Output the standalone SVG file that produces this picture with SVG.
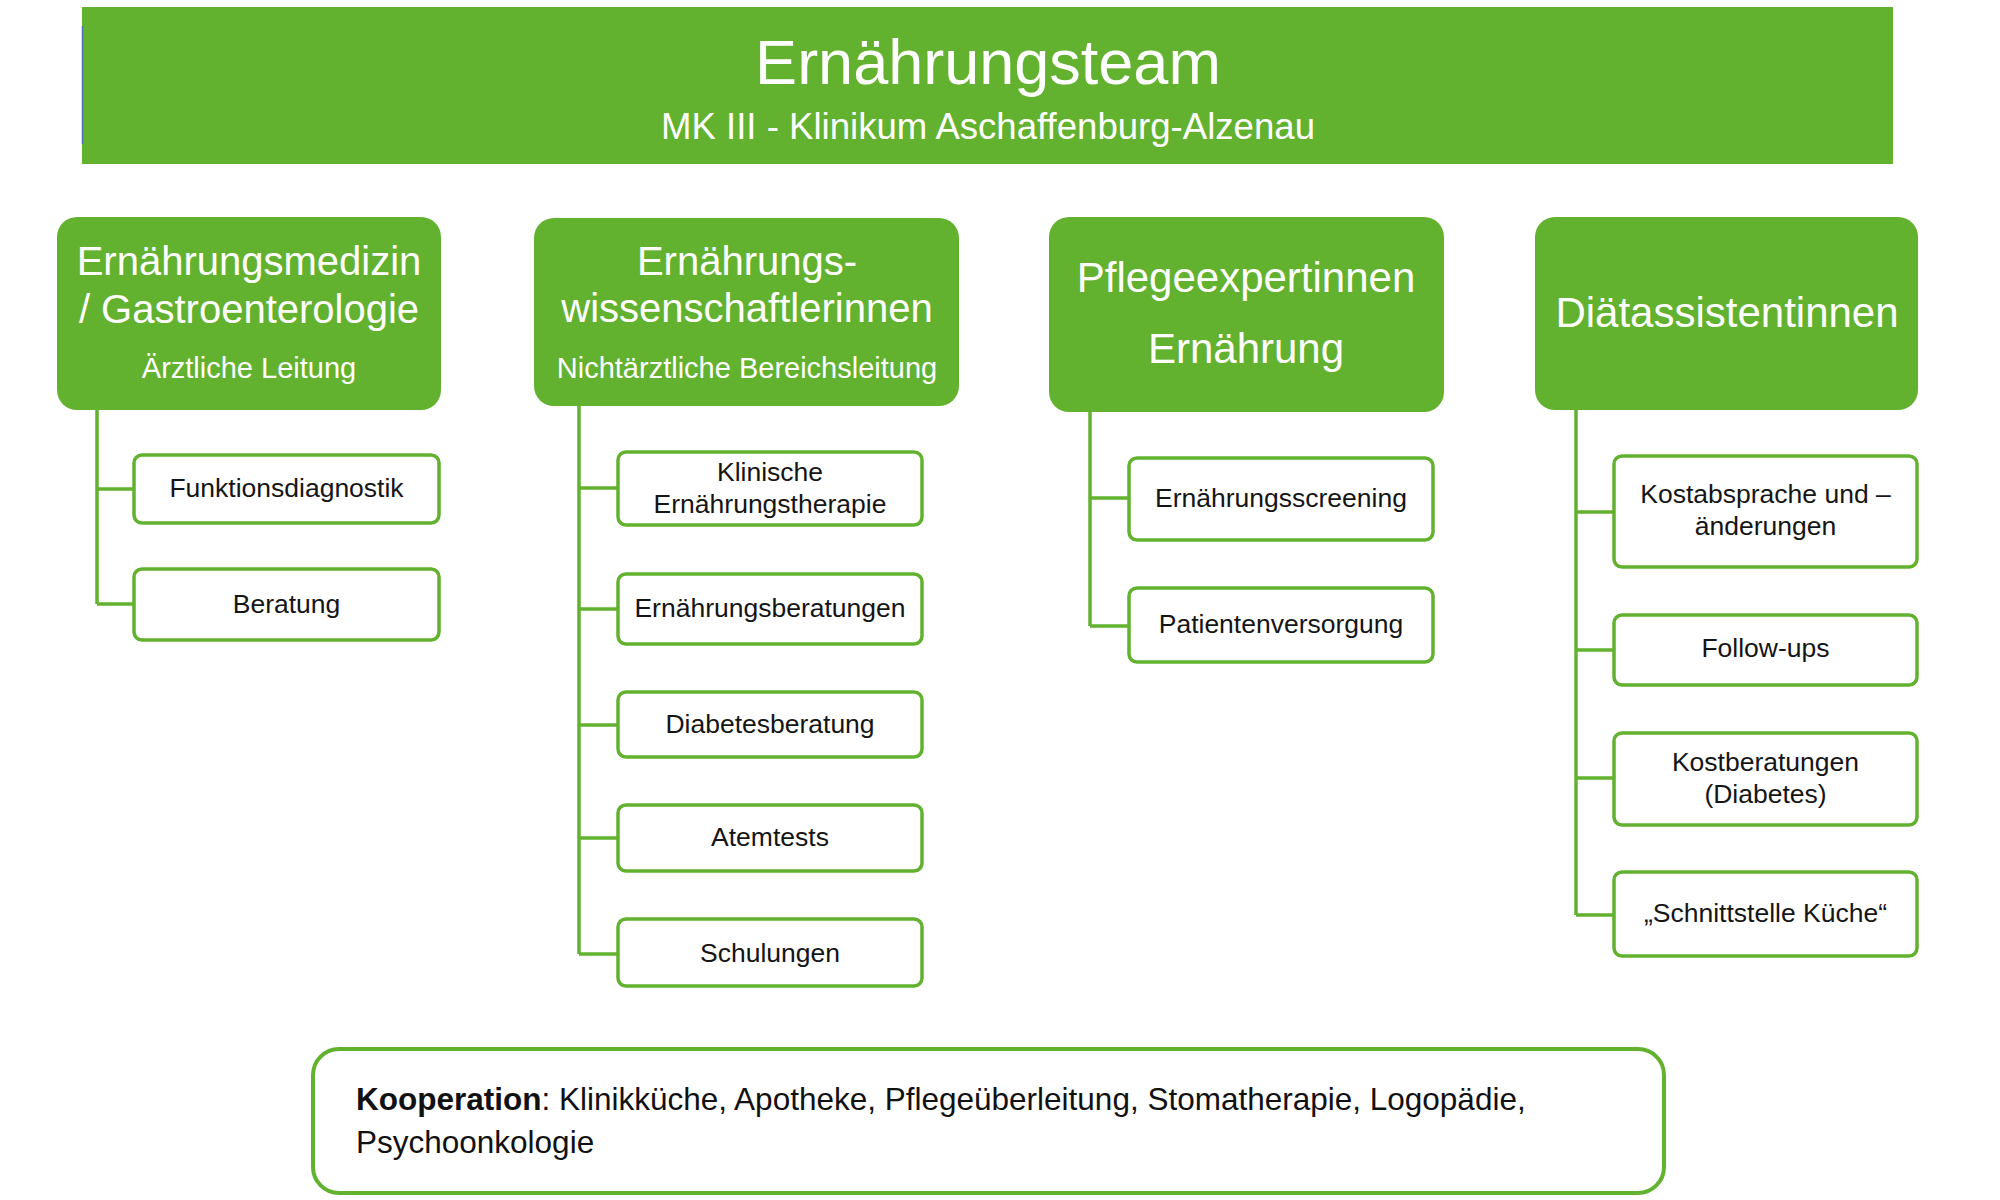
<svg xmlns="http://www.w3.org/2000/svg" width="2000" height="1200" viewBox="0 0 2000 1200">
<style>
  .hdr { fill: #62B22F; }
  .l1 { fill: #62B22F; }
  .l1t { fill: #ffffff; font-family: "Liberation Sans", Arial, sans-serif; text-anchor: middle; }
  .ch { fill: #ffffff; stroke: #62B22F; stroke-width: 3.5; }
  .cht { fill: #151515; font-family: "Liberation Sans", Arial, sans-serif; font-size: 26.5px; text-anchor: middle; }
  .con { fill: none; stroke: #62B22F; stroke-width: 3.5; }
  .koop { fill: #ffffff; stroke: #62B22F; stroke-width: 4; }
  .koopt { fill: #111111; font-family: "Liberation Sans", Arial, sans-serif; font-size: 31.5px; }
</style>
<rect x="0" y="0" width="2000" height="1200" fill="#ffffff"/>

<g id="header">
  <rect class="hdr" x="82" y="7" width="1811" height="157"/>
  <line x1="82.5" y1="26" x2="82.5" y2="144" stroke="#4A6FB5" stroke-width="1.5"/>
  <text class="l1t" x="988" y="84" font-size="63">Ernährungsteam</text>
  <text class="l1t" x="988" y="139" font-size="36.6">MK III - Klinikum Aschaffenburg-Alzenau</text>
</g>

<g id="connectors">
  <path class="con" d="M97 410 V604 M97 489 H133 M97 604 H133"/>
  <path class="con" d="M579 406 V954 M579 488 H618 M579 609 H618 M579 725 H618 M579 838 H618 M579 954 H618"/>
  <path class="con" d="M1090 412 V626 M1090 498 H1129 M1090 626 H1129"/>
  <path class="con" d="M1576 410 V915 M1576 512 H1614 M1576 650 H1614 M1576 778 H1614 M1576 915 H1614"/>
</g>

<g id="gastro">
  <rect class="l1" x="57" y="217" width="384" height="193" rx="20"/>
  <text class="l1t" x="249" y="275" font-size="40">Ernährungsmedizin</text>
  <text class="l1t" x="249" y="323" font-size="40">/ Gastroenterologie</text>
  <text class="l1t" x="249" y="378" font-size="29">Ärztliche Leitung</text>
</g>
<g id="wiss">
  <rect class="l1" x="534" y="218" width="425" height="188" rx="20"/>
  <text class="l1t" x="747" y="275" font-size="40">Ernährungs-</text>
  <text class="l1t" x="747" y="322" font-size="40">wissenschaftlerinnen</text>
  <text class="l1t" x="747" y="378" font-size="29">Nichtärztliche Bereichsleitung</text>
</g>
<g id="pflege">
  <rect class="l1" x="1049" y="217" width="395" height="195" rx="20"/>
  <text class="l1t" x="1246" y="292" font-size="42">Pflegeexpertinnen</text>
  <text class="l1t" x="1246" y="363" font-size="42">Ernährung</text>
</g>
<g id="diaet">
  <rect class="l1" x="1535" y="217" width="383" height="193" rx="20"/>
  <text class="l1t" x="1727" y="327" font-size="42">Diätassistentinnen</text>
</g>

<g id="funktionsdiagnostik">
  <rect class="ch" x="134" y="455" width="305" height="68" rx="8"/>
  <text class="cht" x="286.5" y="497">Funktionsdiagnostik</text>
</g>
<g id="beratung">
  <rect class="ch" x="134" y="569" width="305" height="71" rx="8"/>
  <text class="cht" x="286.5" y="613">Beratung</text>
</g>

<g id="klinische">
  <rect class="ch" x="618" y="452" width="304" height="73" rx="8"/>
  <text class="cht" x="770" y="481">Klinische</text>
  <text class="cht" x="770" y="513">Ernährungstherapie</text>
</g>
<g id="ernberatungen">
  <rect class="ch" x="618" y="574" width="304" height="70" rx="8"/>
  <text class="cht" x="770" y="617">Ernährungsberatungen</text>
</g>
<g id="diabetesberatung">
  <rect class="ch" x="618" y="692" width="304" height="65" rx="8"/>
  <text class="cht" x="770" y="733">Diabetesberatung</text>
</g>
<g id="atemtests">
  <rect class="ch" x="618" y="805" width="304" height="66" rx="8"/>
  <text class="cht" x="770" y="846">Atemtests</text>
</g>
<g id="schulungen">
  <rect class="ch" x="618" y="919" width="304" height="67" rx="8"/>
  <text class="cht" x="770" y="962">Schulungen</text>
</g>

<g id="screening">
  <rect class="ch" x="1129" y="458" width="304" height="82" rx="8"/>
  <text class="cht" x="1281" y="507">Ernährungsscreening</text>
</g>
<g id="patientenversorgung">
  <rect class="ch" x="1129" y="588" width="304" height="74" rx="8"/>
  <text class="cht" x="1281" y="633">Patientenversorgung</text>
</g>

<g id="kostabsprache">
  <rect class="ch" x="1614" y="456" width="303" height="111" rx="8"/>
  <text class="cht" x="1765.5" y="503">Kostabsprache und –</text>
  <text class="cht" x="1765.5" y="535">änderungen</text>
</g>
<g id="followups">
  <rect class="ch" x="1614" y="615" width="303" height="70" rx="8"/>
  <text class="cht" x="1765.5" y="657">Follow-ups</text>
</g>
<g id="kostberatungen">
  <rect class="ch" x="1614" y="733" width="303" height="92" rx="8"/>
  <text class="cht" x="1765.5" y="771">Kostberatungen</text>
  <text class="cht" x="1765.5" y="803">(Diabetes)</text>
</g>
<g id="schnittstelle">
  <rect class="ch" x="1614" y="872" width="303" height="84" rx="8"/>
  <text class="cht" x="1765.5" y="922">„Schnittstelle Küche“</text>
</g>

<g id="kooperation">
  <rect class="koop" x="313" y="1049" width="1351" height="144" rx="26"/>
  <text class="koopt" x="356" y="1110"><tspan font-weight="bold">Kooperation</tspan>: Klinikküche, Apotheke, Pflegeüberleitung, Stomatherapie, Logopädie,</text>
  <text class="koopt" x="356" y="1153">Psychoonkologie</text>
</g>
</svg>
